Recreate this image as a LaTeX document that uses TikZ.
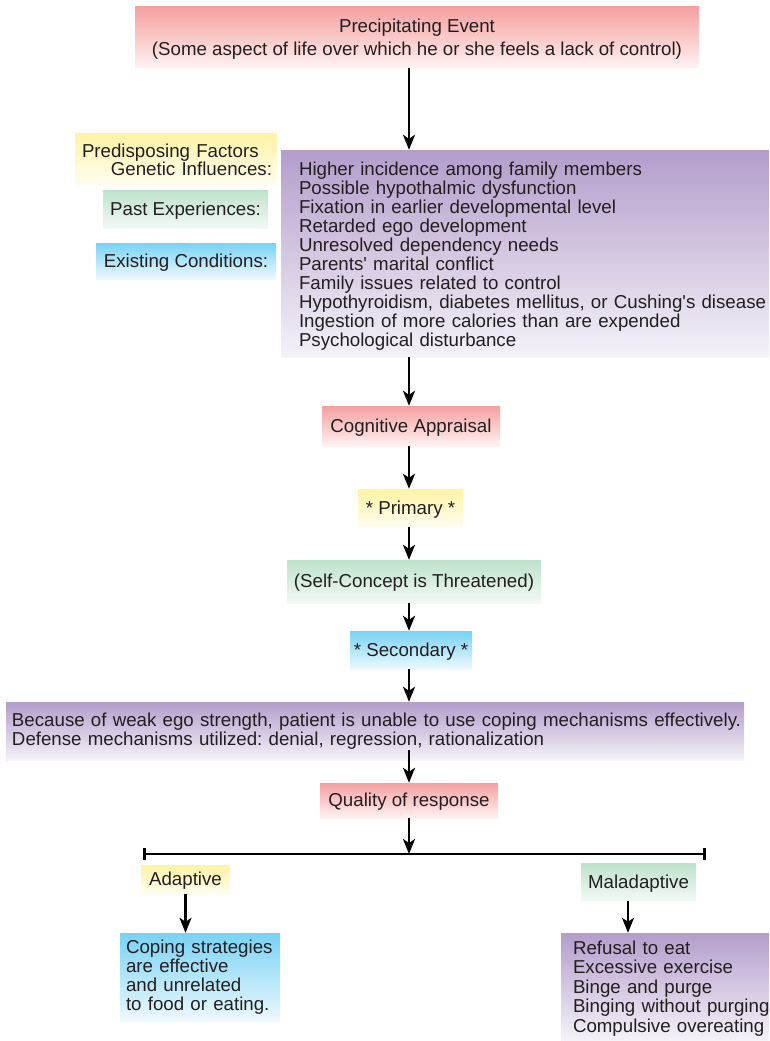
\documentclass[tikz,border=0pt]{standalone}
\usepackage{fontspec}
\setmainfont{Liberation Sans}
\frenchspacing
\usetikzlibrary{arrows.meta}
\definecolor{txt}{HTML}{231F20}
\definecolor{pinkT}{HTML}{F5A0A0}
\definecolor{pinkB}{HTML}{FFF2F2}
\definecolor{yelT}{HTML}{FFF3A3}
\definecolor{yelB}{HTML}{FFFDF2}
\definecolor{grnT}{HTML}{BDE2CB}
\definecolor{grnB}{HTML}{F3F9F5}
\definecolor{bluT}{HTML}{78D2F5}
\definecolor{bluB}{HTML}{EEF9FE}
\definecolor{purT}{HTML}{B39DCB}
\definecolor{purB}{HTML}{F5F2F8}
\newcommand{\sq}{\textquotesingle}
\newcommand{\firstline}{\rule{0pt}{19.5pt}}
\tikzset{
  base/.style={rectangle, inner sep=0pt, font=\fontsize{18.7}{19}\selectfont\frenchspacing, text=txt},
  one/.style={base, text height=13.4pt, text depth=0.5pt},
  pinkbox/.style={top color=pinkT, bottom color=pinkB},
  yelbox/.style={top color=yelT, bottom color=yelB},
  grnbox/.style={top color=grnT, bottom color=grnB},
  blubox/.style={top color=bluT, bottom color=bluB},
  purbox/.style={top color=purT, bottom color=purB},
  arr/.style={line width=2.6pt, -{Stealth[length=15pt,width=12pt,inset=4pt]}},
  barline/.style={line width=2.6pt, {Bar[width=12pt]}-{Bar[width=12pt]}},
}
\begin{document}
\begin{tikzpicture}[x=1pt,y=-1pt]
\useasboundingbox (0,0) rectangle (769,1041);
\coordinate (axis) at (409,0);

\node[base, pinkbox, minimum width=564pt, minimum height=61pt, align=center] (top) at (417,37.5)
  {\rule{0pt}{16pt}Precipitating Event\\[4pt](Some aspect of life over which he or she feels a lack of control)};

\node[base, yelbox, minimum width=202pt, minimum height=52pt, text width=188pt, align=left,
  font=\fontsize{18.7}{18}\selectfont] (pre) at (176,159)
  {\rule{0pt}{15pt}Predisposing Factors\\\hspace*{\fill}Genetic Influences:\hspace*{-2pt}};
\node[one, grnbox, minimum width=165pt, minimum height=38pt] (past) at (185.5,209) {Past Experiences:};
\node[one, blubox, minimum width=180pt, minimum height=36pt] (exist) at (186,261) {Existing Conditions:};

\node[base, purbox, minimum width=488pt, minimum height=207pt, text width=452pt, align=left] (gen) at (525,253.5)
  {\firstline Higher incidence among family members\\
   Possible hypothalmic dysfunction\\
   Fixation in earlier developmental level\\
   Retarded ego development\\
   Unresolved dependency needs\\
   Parents\sq{} marital conflict\\
   Family issues related to control\\
   \mbox{Hypothyroidism, diabetes mellitus, or Cushing\sq{}s disease}\\
   \mbox{Ingestion of more calories than are expended}\\
   Psychological disturbance};

\node[one, pinkbox, minimum width=178pt, minimum height=40pt] (cog) at (411,426) {Cognitive Appraisal};
\node[one, yelbox, minimum width=105pt, minimum height=38pt] (prim) at (410.5,508) {* Primary *};
\node[one, grnbox, minimum width=254pt, minimum height=43pt] (self) at (414,581.5) {(Self-Concept is Threatened)};
\node[one, blubox, minimum width=122pt, minimum height=38pt] (sec) at (411,650) {* Secondary *};

\node[base, purbox, minimum width=738pt, minimum height=58pt, text width=726pt, align=left] (ego) at (375,731)
  {\mbox{Because of weak ego strength, patient is unable to use coping mechanisms effectively.}\\
   \mbox{Defense mechanisms utilized: denial, regression, rationalization}};

\node[one, pinkbox, minimum width=178pt, minimum height=35pt] (qual) at (409,800.5) {Quality of response};

\coordinate (bl) at (143,854);
\coordinate (bm) at (409,854);
\coordinate (br) at (706,854);

\node[one, yelbox, minimum width=89pt, minimum height=29pt] (adap) at (185.5,879.5) {Adaptive};
\node[one, grnbox, minimum width=115pt, minimum height=38pt] (mal) at (638.5,882) {Maladaptive};

\node[base, blubox, minimum width=160pt, minimum height=88pt, text width=148pt, align=left] (cope) at (200,977)
  {\mbox{Coping strategies}\\are effective\\and unrelated\\\mbox{to food or eating.}};
\node[base, purbox, minimum width=208pt, minimum height=107pt, text width=184pt, align=left,
  font=\fontsize{18.7}{19.5}\selectfont] (mlist) at (665,986.5)
  {\rule{0pt}{17pt}Refusal to eat\\Excessive exercise\\Binge and purge\\\mbox{Binging without purging}\\\mbox{Compulsive overeating}};

\draw[arr] (top.south -| axis) -- (gen.north -| axis);
\draw[arr] (gen.south -| axis) -- (cog.north -| axis);
\draw[arr] (cog.south -| axis) -- (prim.north -| axis);
\draw[arr] (prim.south -| axis) -- (self.north -| axis);
\draw[arr] (self.south -| axis) -- (sec.north -| axis);
\draw[arr] (sec.south -| axis) -- (ego.north -| axis);
\draw[arr] ([yshift=10pt]ego.south -| axis) -- (qual.north -| axis);
\draw[arr] (qual.south -| axis) -- (bm);
\draw[barline] (bl) -- (br);
\draw[arr] (adap.south) -- (adap.south |- cope.north);
\draw[arr] ([xshift=-10.5pt]mal.south) -- ([xshift=-10.5pt]mal.south |- mlist.north);
\end{tikzpicture}
\end{document}
